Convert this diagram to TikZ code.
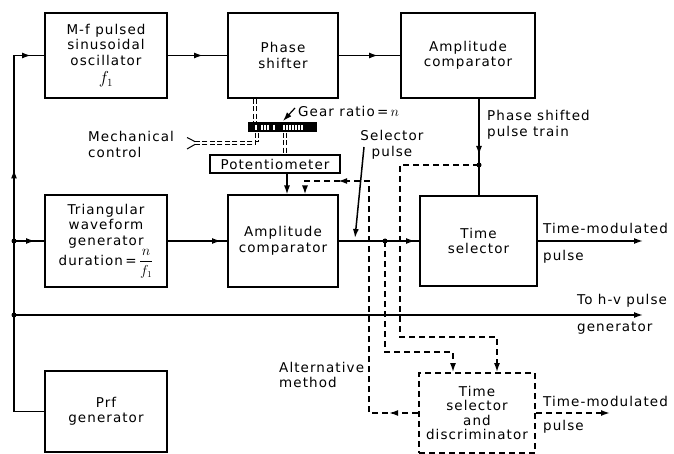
\documentclass[tikz,border=0pt]{standalone}
\usepackage{fontspec}
\setmainfont{DejaVu Sans}[LetterSpace=8]
\usetikzlibrary{arrows.meta,decorations.markings}
\tikzset{
  >={Latex[length=9pt,width=6pt]},
  blk/.style={draw, line width=2pt, inner sep=1pt, align=center},
  ln/.style={line width=1.5pt},
  dsh/.style={line width=1.6pt, dash pattern=on 6pt off 4pt},
  dd/.style={line width=1pt, dash pattern=on 5pt off 2.5pt},
  marr/.style={decoration={markings, mark=at position #1 with {\arrow{>}}}, postaction={decorate}},
  marrtwo/.style 2 args={decoration={markings, mark=at position #1 with {\arrow{>}}, mark=at position #2 with {\arrow{>}}}, postaction={decorate}},
  lbl/.style={inner sep=0pt, align=left, anchor=west},
  dot/.style={circle, fill, inner sep=0pt, minimum size=5pt},
}
\newcommand{\bigf}{{\fontsize{16}{16}\selectfont$f_1$}}
\begin{document}
\begin{tikzpicture}[x=1pt, y=-1pt, font=\fontsize{13.5}{15.5}\selectfont]
\useasboundingbox (0,0) rectangle (674,454);

% boxes
\node[blk, minimum width=122pt, minimum height=85pt] (osc) at (106,55.5) {M-f pulsed\\sinusoidal\\oscillator\\[3pt]\bigf};
\node[blk, minimum width=110pt, minimum height=85pt] (ps) at (283,55.5) {Phase\\shifter};
\node[blk, minimum width=134pt, minimum height=85pt] (acA) at (468,55.5) {Amplitude\\comparator};
\node[blk, minimum width=122pt, minimum height=91pt] (tri) at (106,241) {Triangular\\waveform\\generator\\duration\,=\,$\displaystyle\frac{n}{f_1}$};
\node[blk, minimum width=110pt, minimum height=91pt] (acB) at (283,241) {Amplitude\\comparator};
\node[blk, minimum width=117pt, minimum height=90pt] (ts) at (478.5,241) {Time\\selector};
\node[blk, minimum width=122pt, minimum height=81pt] (prf) at (106,411.5) {Prf\\generator};
\node[blk, minimum width=130pt, minimum height=18pt, inner sep=0pt] (pot) at (275,164) {Potentiometer};
\node[draw, dsh, line width=1.8pt, align=center, minimum width=116pt, minimum height=80pt, inner sep=0pt,
      font=\fontsize{13.5}{14.5}\selectfont] (dbox) at (477,413) {Time\\selector\\and\\discriminator};

% gear
\node[fill=black, minimum width=69pt, minimum height=10pt, inner sep=0pt] (gear) at (282.5,127.5) {};
\foreach \gx in {256,262,265,268,274,284,287,290,293,296,299,302}
  \draw[white, line width=1.1pt] (\gx,125) -- (\gx,130);

% helper coordinates
\coordinate (b1) at (14,241);
\coordinate (b2) at (14,315);
\coordinate (d1) at (479,165);
\coordinate (d2) at (385,241);
\coordinate (c1) at (369,181);
\coordinate (c2) at (305,181);
\coordinate (e1) at (400,337);
\coordinate (e2) at (385,352);
\coordinate (o1) at (643,241);
\coordinate (o2) at (643,315);
\coordinate (o3) at (610,413);
\coordinate (mc) at (195,143);
\coordinate (sp) at (364,147);
\coordinate (gl) at (295,108);

% solid connectors
\draw[ln, marrtwo={272pt}{403pt}] (prf.west) -- (prf.west -| b1) -- (b1 |- osc.west) -- (osc.west);
\draw[ln, marr=21pt] (b1) -- (tri.west);
\draw[ln, ->] (b2) -- (o2);
\draw[ln, marr=35pt] (osc.east) -- (ps.west);
\draw[ln, marr=39pt] (ps.east) -- (acA.west);
\draw[ln, marr=53pt] (tri.east) -- (acB.west);
\draw[ln, marr=76pt] (acB.east) -- (ts.west);
\draw[ln, ->] (ts.east) -- (o1);
\draw[ln, marr=56pt] (acA.south -| d1) -- (ts.north -| d1);
\draw[ln, ->] ([xshift=12pt]pot.south) -- ([xshift=12pt]pot.south |- acB.north);
\draw[ln, ->] (sp) -- (355,238);
\draw[line width=1.2pt, ->] (gl) -- (283,121);
\node[dot] at (b1) {};
\node[dot] at (b2) {};
\node[dot] at (d1) {};
\node[dot] at (d2) {};

% dashed connectors
\draw[dsh, ->, marrtwo={29pt}{312pt}] (dbox.west) -| (c1) -- (c2) -- (c2 |- acB.north);
\draw[dsh, ->] (d1) -| (e1) -| ([xshift=20pt]dbox.north);
\draw[dsh, ->] (d2) |- (e2) -| ([xshift=-24pt]dbox.north);
\draw[dsh, ->] (dbox.east) -- (o3);

% mechanical (double dashed)
\foreach \s in {-1.4,1.4}{
  \draw[dd] ([xshift=-28pt+\s pt]ps.south) -- ([xshift=-27.5pt+\s pt]gear.north);
  \draw[dd] ([xshift=2.5pt+\s pt]gear.south) -- ([xshift=10pt+\s pt]pot.north);
}
\draw[dd] ([xshift=-24.1pt]gear.south) |- ([yshift=1.4pt]mc);
\draw[dd] ([xshift=-26.9pt]gear.south) |- ([yshift=-1.4pt]mc);
\draw[line width=1pt] (187,137.5) -- (195,141.6);
\draw[line width=1pt] (187,149) -- (195,144.4);

% labels
\node[lbl] at (298,111) {Gear ratio\,=\,$n$};
\node[lbl] at (88,144.5) {Mechanical\\control};
\node[lbl] at (487,125) {Phase shifted\\pulse train};
\node[inner sep=0pt, align=center] at (392,145) {Selector\\pulse};
\node[lbl] at (543,228) {Time-modulated};
\node[lbl] at (543,257) {pulse};
\node[lbl] at (577,301) {To h-v pulse};
\node[lbl] at (577,328) {generator};
\node[lbl] at (279,375) {Alternative\\method};
\node[lbl] at (543,401) {Time-modulated};
\node[lbl] at (543,427) {pulse};
\end{tikzpicture}
\end{document}
